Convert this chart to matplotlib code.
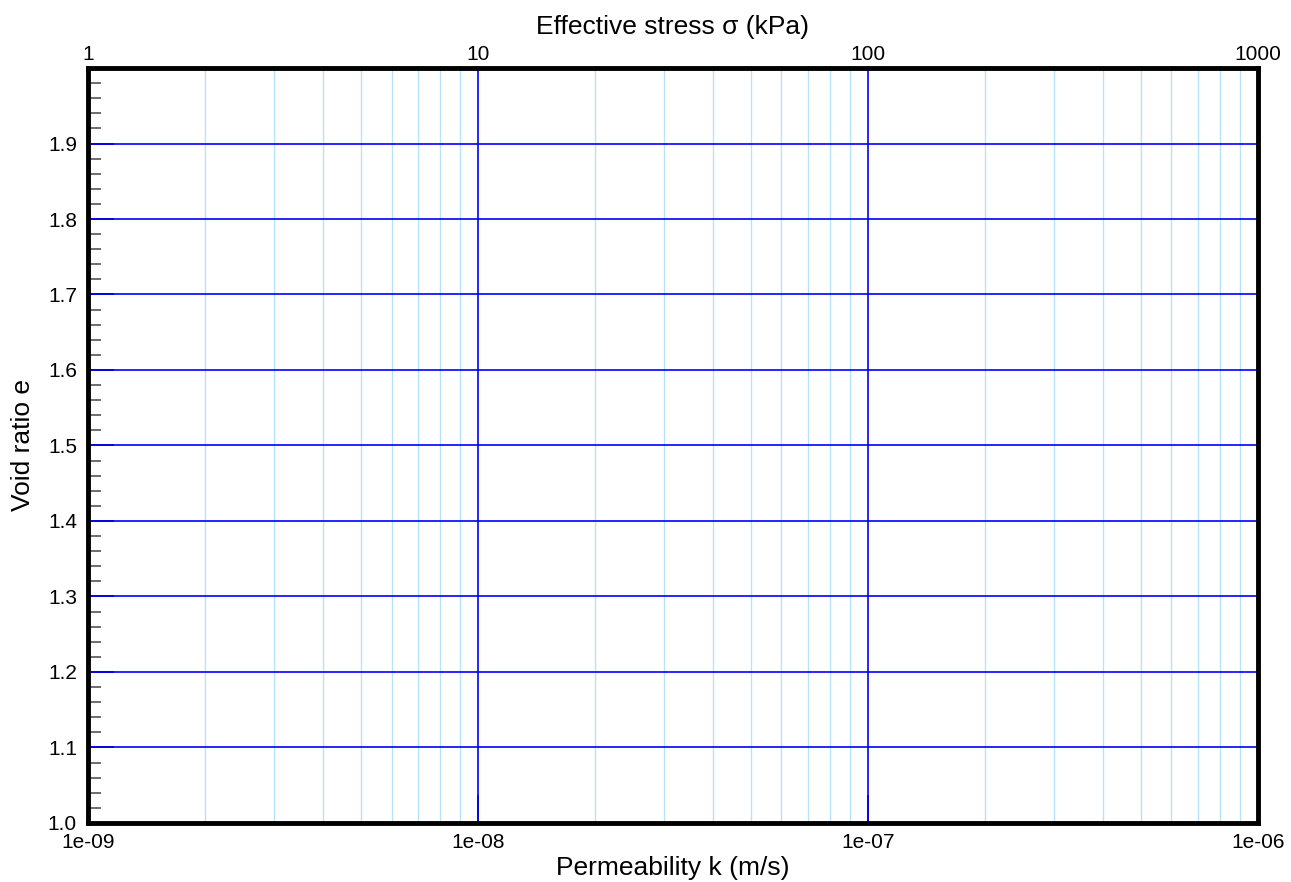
import numpy as np
import matplotlib
matplotlib.use("Agg")
import matplotlib.pyplot as plt
from matplotlib.ticker import FixedLocator, NullFormatter

plt.rcParams['font.family'] = ['Liberation Sans', 'DejaVu Sans']

# axis ranges
k_range = [1e-9, 1e-6]          # permeability (m/s), bottom axis
sigma_range = [1, 1000]         # effective stress (kPa), top axis
e_range = [1.0, 2.0]            # void ratio

k_ticks = [1e-9, 1e-8, 1e-7, 1e-6]
k_labels = ["1e-09", "1e-08", "1e-07", "1e-06"]
sigma_ticks = [1, 10, 100, 1000]
sigma_labels = ["1", "10", "100", "1000"]
e_ticks = [1.0, 1.1, 1.2, 1.3, 1.4, 1.5, 1.6, 1.7, 1.8, 1.9]
e_labels = ["1.0", "1.1", "1.2", "1.3", "1.4", "1.5", "1.6", "1.7", "1.8", "1.9"]

fig = plt.figure(figsize=(12.91, 8.82), dpi=100)
ax = fig.add_axes([0.0682, 0.0669, 0.9062, 0.856])

ax.set_xscale("log")
ax.set_xlim(k_range)
ax.set_ylim(e_range)

# minor grid on the log axis: 2..9 in each decade
minor_k = [m * 10.0 ** d for d in range(-9, -6) for m in range(2, 10)]
for x in minor_k:
    ax.axvline(x, color="#b8e2f8", lw=1.0, zorder=1)
for x in k_ticks[1:-1]:
    ax.axvline(x, color="#0000ff", lw=1.2, zorder=2)
for y in e_ticks[1:]:
    ax.axhline(y, color="#0000ff", lw=1.2, zorder=2)

ax.xaxis.set_major_locator(FixedLocator(k_ticks))
ax.set_xticklabels(k_labels)
ax.xaxis.set_minor_locator(FixedLocator([]))
ax.xaxis.set_minor_formatter(NullFormatter())
ax.set_yticks(e_ticks)
ax.set_yticklabels(e_labels)
ax.yaxis.set_minor_locator(FixedLocator(np.round(np.arange(1.02, 2.0, 0.02), 2)))

ax.tick_params(axis="x", which="major", direction="in", length=20, width=1.2,
               labelsize=15, pad=7, top=False)
ax.tick_params(axis="y", which="major", direction="in", length=19, width=1.2,
               labelsize=15, pad=8, right=False)
ax.tick_params(axis="y", which="minor", direction="in", length=9, width=1.2,
               color="#555555", right=False)

for s in ax.spines.values():
    s.set_linewidth(3.5)
    s.set_zorder(5)

ax.set_xlabel("Permeability k (m/s)", fontsize=19, labelpad=3)
ax.set_ylabel("Void ratio e", fontsize=19, labelpad=9)

# top axis for effective stress
ax2 = ax.twiny()
ax2.set_xscale("log")
ax2.set_xlim(sigma_range)
ax2.xaxis.set_major_locator(FixedLocator(sigma_ticks))
ax2.set_xticklabels(sigma_labels)
ax2.xaxis.set_minor_locator(FixedLocator([]))
ax2.tick_params(axis="x", which="major", length=0, labelsize=15, pad=3)
ax2.set_xlabel("Effective stress σ (kPa)", fontsize=19, labelpad=8)
for s in ax2.spines.values():
    s.set_visible(False)

fig.savefig("out.png", dpi=100)
